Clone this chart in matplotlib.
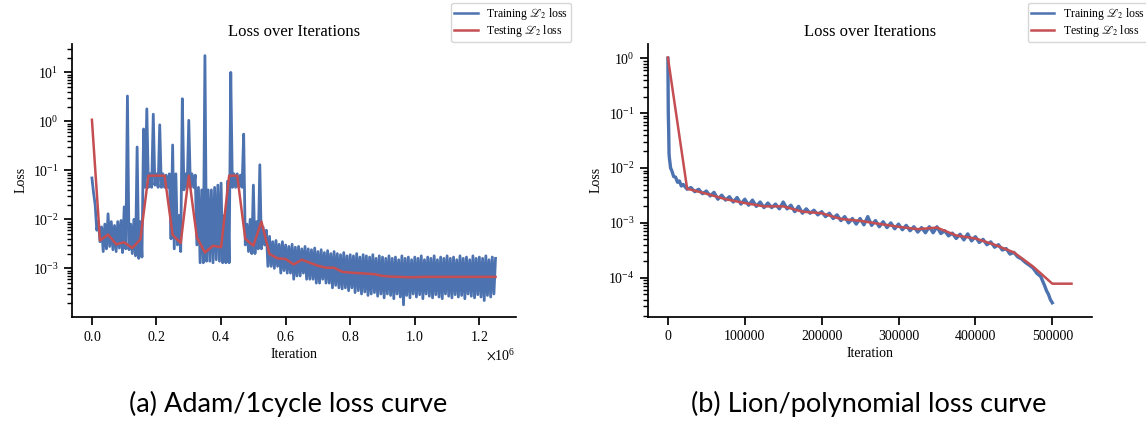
import numpy as np
import matplotlib
matplotlib.use("Agg")
import matplotlib.pyplot as plt

# training curves are very noisy: each run keeps a high reading and a low
# reading per logging interval (the low one half an interval later) and
# the two are merged into one line

# Adam / 1cycle run, training loss
adam_upper_iters = np.arange(0, 1250001, 10000)
adam_lower_iters = np.arange(5000, 1250000, 10000)
adam_train_upper = [
    0.07, 0.02, 0.009, 0.007, 0.008, 0.013, 0.009, 0.0075, 0.009, 0.0095,
    0.018, 3.3, 0.008, 0.010, 0.30, 0.009, 0.70, 1.8, 0.085, 1.4,
    0.085, 0.85, 0.085, 0.08, 0.085, 0.33, 0.085, 0.012, 2.9, 0.085,
    1.05, 0.085, 0.08, 0.045, 0.04, 22.0, 0.04, 0.04, 0.045, 0.05,
    0.055, 0.012, 0.06, 10.0, 0.085, 0.085, 0.08, 0.55, 0.008, 0.01,
    0.05, 0.009, 0.13, 0.007, 0.006, 0.0045, 0.0035, 0.0037, 0.0031, 0.0035,
    0.0030, 0.0028, 0.0031, 0.0027, 0.0028, 0.0025, 0.0028, 0.0025, 0.0024, 0.0026,
    0.0022, 0.0024, 0.0021, 0.0023, 0.0020, 0.0022, 0.0020, 0.0019, 0.0021, 0.0018,
    0.0019, 0.0018, 0.0020, 0.0017, 0.0019, 0.0018, 0.0017, 0.0019, 0.0016, 0.0018,
    0.0017, 0.0016, 0.0018, 0.0016, 0.0017, 0.0015, 0.0018, 0.0016, 0.0017, 0.0015,
    0.0017, 0.0016, 0.0018, 0.0015, 0.0017, 0.0016, 0.0018, 0.0015, 0.0017, 0.0016,
    0.0018, 0.0016, 0.0017, 0.0015, 0.0018, 0.0016, 0.0017, 0.0015, 0.0018, 0.0016,
    0.0017, 0.0016, 0.0018, 0.0015, 0.0017, 0.0016,
]
adam_train_lower = [
    0.035, 0.006, 0.0035, 0.0022, 0.0025, 0.0028, 0.0024, 0.0022, 0.0026, 0.0021,
    0.0025, 0.0024, 0.0020, 0.0018, 0.0016, 0.0017, 0.045, 0.045, 0.045, 0.05,
    0.045, 0.045, 0.045, 0.045, 0.004, 0.0025, 0.003, 0.0022, 0.04, 0.045,
    0.045, 0.045, 0.003, 0.0013, 0.0013, 0.0014, 0.0014, 0.0013, 0.0015, 0.0014,
    0.0013, 0.0013, 0.0013, 0.045, 0.045, 0.045, 0.045, 0.003, 0.0022, 0.002,
    0.002, 0.0025, 0.0025, 0.003, 0.0011, 0.0011, 0.0010, 0.0011, 0.0008, 0.0009,
    0.0008, 0.0008, 0.0006, 0.0007, 0.0007, 0.0008, 0.0006, 0.0006, 0.0006, 0.0005,
    0.0005, 0.0006, 0.0005, 0.0005, 0.0004, 0.00045, 0.0004, 0.00038, 0.0004, 0.00035,
    0.0004, 0.00032, 0.00035, 0.0003, 0.00033, 0.00028, 0.0003, 0.00032, 0.00027, 0.0003,
    0.00025, 0.0003, 0.00028, 0.00024, 0.0003, 0.00026, 0.00018, 0.00028, 0.00025, 0.0003,
    0.00026, 0.00029, 0.00024, 0.0003, 0.00027, 0.00025, 0.00029, 0.00026, 0.00024, 0.0003,
    0.00027, 0.00025, 0.00029, 0.00026, 0.00028, 0.00024, 0.0003, 0.00027, 0.00025, 0.00029,
    0.00026, 0.00022, 0.00028, 0.00026, 0.0003,
]

# Adam / 1cycle run, test loss every 25000 iterations
adam_test_iters = np.arange(0, 1250001, 25000)
adam_test_loss = [
    1.08, 3.7e-3, 4.9e-3, 3.1e-3, 3.4e-3, 2.6e-3, 3.9e-3, 0.078, 0.078, 0.078,
    4.8e-3, 3.3e-3, 0.078, 4.3e-3, 2.1e-3, 2.9e-3, 2.7e-3, 0.078, 0.078, 4.0e-3,
    2.9e-3, 9.0e-3, 1.96e-3, 1.6e-3, 1.55e-3, 1.2e-3, 1.5e-3, 1.3e-3, 1.13e-3, 1.03e-3,
    1.03e-3, 8.5e-4, 8.2e-4, 8.0e-4, 7.8e-4, 7.6e-4, 7.0e-4, 6.8e-4, 6.7e-4, 6.6e-4,
    6.6e-4, 6.7e-4, 6.7e-4, 6.7e-4, 6.7e-4, 6.7e-4, 6.7e-4, 6.7e-4, 6.7e-4, 6.7e-4,
    6.7e-4,
]

# Lion / polynomial run, training loss
lion_upper_iters = [
    0, 1000, 2000, 5000, 10000, 15000, 20000, 30000, 40000, 50000,
    60000, 70000, 80000, 90000, 100000, 110000, 120000, 130000, 140000, 150000,
    160000, 170000, 180000, 190000, 200000, 210000, 220000, 230000, 240000, 250000,
    260000, 270000, 280000, 290000, 300000, 310000, 320000, 330000, 340000, 350000,
    360000, 370000, 380000, 390000, 400000, 410000, 420000, 430000, 440000, 450000,
    460000, 470000, 480000, 490000, 495000, 500000,
]
lion_lower_iters = [
    500, 1500, 3500, 7500, 12500, 17500, 25000, 35000, 45000, 55000,
    65000, 75000, 85000, 95000, 105000, 115000, 125000, 135000, 145000, 155000,
    165000, 175000, 185000, 195000, 205000, 215000, 225000, 235000, 245000, 255000,
    265000, 275000, 285000, 295000, 305000, 315000, 325000, 335000, 345000, 355000,
    365000, 375000, 385000, 395000, 405000, 415000, 425000, 435000, 445000, 455000,
    465000, 475000, 485000, 492500, 497500,
]
lion_train_upper = [
    1.0, 0.05, 0.015, 0.009, 0.0068, 0.0058, 0.0050, 0.0044, 0.0041, 0.0038,
    0.0036, 0.0032, 0.0030, 0.0029, 0.0027, 0.0026, 0.0024, 0.0023, 0.0022, 0.0024,
    0.0021, 0.0020, 0.0018, 0.0017, 0.0016, 0.0015, 0.0014, 0.0013, 0.0012, 0.0012,
    0.0013, 0.0011, 0.00105, 0.0010, 0.00095, 0.00090, 0.00085, 0.00082, 0.00085, 0.00085,
    0.00072, 0.00065, 0.00062, 0.00063, 0.00056, 0.00050, 0.00045, 0.00040, 0.00034, 0.00029,
    0.00022, 0.00017, 0.00012, 0.000072, 0.000050, 0.000035,
]
lion_train_lower = [
    0.1, 0.018, 0.010, 0.007, 0.0055, 0.0047, 0.0041, 0.0037, 0.0034, 0.0031,
    0.0027, 0.0026, 0.0024, 0.0022, 0.0021, 0.0020, 0.0019, 0.0019, 0.0018, 0.0018,
    0.0016, 0.0015, 0.0015, 0.0014, 0.0013, 0.0012, 0.0011, 0.0010, 0.00095, 0.00092,
    0.00090, 0.00085, 0.00082, 0.00078, 0.00075, 0.00072, 0.00068, 0.00066, 0.00066, 0.00064,
    0.00058, 0.00052, 0.00049, 0.00047, 0.00044, 0.00040, 0.00036, 0.00032, 0.00027, 0.00024,
    0.00019, 0.00015, 0.000105, 0.000058, 0.000040,
]

# Lion / polynomial run, test loss every 25000 iterations
lion_test_iters = np.arange(0, 525001, 25000)
lion_test_loss = [
    1.03, 4.2e-3, 3.4e-3, 2.7e-3, 2.3e-3, 2.0e-3, 2.0e-3, 1.6e-3, 1.5e-3, 1.18e-3,
    1.09e-3, 9.6e-4, 8.5e-4, 7.7e-4, 8.2e-4, 5.9e-4, 5.2e-4, 4.0e-4, 2.9e-4, 1.6e-4,
    7.8e-5, 7.8e-5,
]

captions = ["(a) Adam/1cycle loss curve", "(b) Lion/polynomial loss curve"]

blue = "#4c72b0"
red = "#c44e52"

plt.rcParams["font.family"] = ["Liberation Serif", "DejaVu Serif"]
plt.rcParams["mathtext.fontset"] = "stix"
plt.rcParams["axes.linewidth"] = 1.25
plt.rcParams["xtick.major.width"] = 1.25
plt.rcParams["ytick.major.width"] = 1.25
plt.rcParams["ytick.minor.width"] = 1.0
plt.rcParams["xtick.major.size"] = 6
plt.rcParams["ytick.major.size"] = 6
plt.rcParams["ytick.minor.size"] = 3.5


def merge_readings(up_x, up_y, lo_x, lo_y):
    # put high and low readings in iteration order
    x = np.concatenate([np.asarray(up_x, float), np.asarray(lo_x, float)])
    y = np.concatenate([up_y, lo_y])
    order = np.argsort(x, kind="stable")
    return x[order], y[order]


fig = plt.figure(figsize=(11.46, 4.25), dpi=100)
ax1 = fig.add_axes([0.0626, 0.2548, 0.3874, 0.6417])
ax2 = fig.add_axes([0.5652, 0.2548, 0.3874, 0.6417])

runs = [
    (ax1, adam_upper_iters, adam_train_upper, adam_lower_iters, adam_train_lower,
     adam_test_iters, adam_test_loss, 2.0),
    (ax2, lion_upper_iters, lion_train_upper, lion_lower_iters, lion_train_lower,
     lion_test_iters, lion_test_loss, 2.4),
]

for ax, ux, uy, lx, ly, te_x, te_y, lw in runs:
    tx, ty = merge_readings(ux, uy, lx, ly)
    ax.plot(tx, ty, color=blue, lw=lw, label=r"Training $\mathscr{L}_2$ loss")
    ax.plot(te_x, te_y, color=red, lw=1.8, label=r"Testing $\mathscr{L}_2$ loss")
    ax.set_yscale("log")
    ax.set_title("Loss over Iterations", fontsize=12, pad=6)
    ax.set_xlabel("Iteration", fontsize=10, labelpad=3)
    ax.set_ylabel("Loss", fontsize=10)
    ax.tick_params(labelsize=10)
    ax.spines["top"].set_visible(False)
    ax.spines["right"].set_visible(False)

ax1.ticklabel_format(axis="x", useMathText=True)
ax1.set_ylim(1.03e-4, 38)
ax2.set_ylim(10 ** -4.71, 10 ** 0.26)

# legends sit above the axes, the second one runs off the right edge
legend_kw = dict(fontsize=8.5, frameon=True, borderaxespad=0, labelspacing=0.1,
                 borderpad=0.25, handlelength=2.0, handletextpad=0.7)
leg1 = ax1.legend(loc="upper right", bbox_to_anchor=(0.4983, 0.993),
                  bbox_transform=fig.transFigure, **legend_kw)
leg2 = ax2.legend(loc="upper left", bbox_to_anchor=(0.8968, 0.993),
                  bbox_transform=fig.transFigure, **legend_kw)
for leg in (leg1, leg2):
    for handle in leg.get_lines():
        handle.set_linewidth(1.8)

fig.text(0.2515, 0.05, captions[0], ha="center", va="center", fontsize=19.5,
         family="Lato")
fig.text(0.758, 0.05, captions[1], ha="center", va="center", fontsize=19.5,
         family="Lato")

fig.savefig("out.png", dpi=100)
